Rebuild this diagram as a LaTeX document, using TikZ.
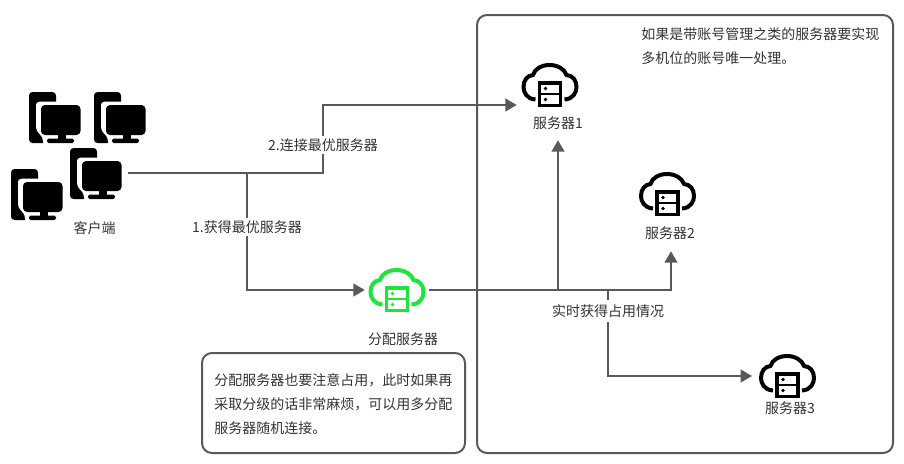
\documentclass[tikz,border=0pt]{standalone}
\usepackage{fontspec}
\setmainfont{Noto Sans CJK SC}
\usetikzlibrary{arrows.meta}
\definecolor{linegrey}{HTML}{595959}
\definecolor{txtgrey}{HTML}{333333}
\definecolor{srvgreen}{HTML}{1FE53B}
\tikzset{
  x=0.75pt,y=-0.75pt,
  conn/.style={draw=linegrey,line width=1.5pt,line join=miter},
  arr/.style={conn,-{Triangle[width=9.5pt,length=8.5pt]}},
  frame/.style={draw=linegrey,line width=1.5pt,rounded corners=7.5pt,fill=white},
  lbl/.style={font=\fontsize{10.5}{18}\selectfont,text=txtgrey,inner sep=0pt,align=left},
  lblbg/.style={lbl,fill=white,inner sep=2pt},
  hot/.style={inner sep=0pt,minimum width=#1},
  pics/pcicon/.style={code={
    \fill[black,rounded corners=2.6pt] (0,0) rectangle (27,51);
    \fill[white,rounded corners=3pt] (7,14) -- (7,9.5) -- (30,9.5) -- (56,9.5) -- (56,54) -- (14,54) -- (14,45) -- (7,39) -- cycle;
    \fill[black,rounded corners=3pt] (12,13) rectangle (51.5,43);
    \fill[black] (28.5,42) rectangle (36.5,47.5);
    \fill[black,rounded corners=1.2pt] (18,46.5) rectangle (45,51);
  }},
  pics/cloudicon/.style={code={
    \draw[#1,line width=3pt] (14,36.5) .. controls (5,36) and (2,29) .. (2,24)
      .. controls (2,17) and (6,12.5) .. (11.5,12)
      .. controls (13,6) and (20,2) .. (28,2)
      .. controls (36,2) and (43,6) .. (45,12)
      .. controls (51,12.5) and (55,17) .. (55,24)
      .. controls (55,29) and (52,36) .. (43,36.5);
    \draw[#1,line width=2.8pt] (18,20) rectangle (39,42.5);
    \draw[#1,line width=2.2pt] (18,31) -- (39,31);
    \fill[#1] (24,25.5) circle (1.9);
    \fill[#1] (24,36.5) circle (1.9);
  }},
}
\begin{document}
\begin{tikzpicture}
\useasboundingbox (0,0) rectangle (904,464);
% containers
\node[frame,minimum width=312pt,minimum height=328.5pt,anchor=north west] (area) at (476,14) {};
\node[frame,minimum width=197.25pt,minimum height=75pt,anchor=north west] (note) at (201,352) {};
% icons
\pic at (29,92) {pcicon};
\pic at (94,92) {pcicon};
\pic at (70,148) {pcicon};
\pic at (11,169) {pcicon};
\pic at (368.5,268) {cloudicon=srvgreen};
\pic at (521.5,63) {cloudicon=black};
\pic at (639,172) {cloudicon=black};
\pic at (759,354) {cloudicon=black};
% connector anchors
\node[hot=43.5pt,minimum height=30pt] (client) at (99,173) {};
\node[hot=48pt,minimum height=30pt] (dist) at (397,290) {};
\node[hot=61.5pt,minimum height=52.5pt] (s1) at (558,105) {};
\node[hot=40pt,minimum height=52.5pt] (s2) at (671,216) {};
\node[hot=40pt,minimum height=30pt,anchor=west] (s3) at (752,376) {};
% junctions
\coordinate (j1) at (247,173);
\coordinate (j2) at (558,290);
\coordinate (j3) at (608,290);
\coordinate (k1) at (323,173);
\coordinate (k2) at (608,376);
% connectors
\draw[arr] (client.east) -- (k1) |- (s1.west);
\draw[arr] (j1) |- (dist.west);
\draw[arr] (dist.east) -| (s2.south);
\draw[arr] (j2) -- (s1.south);
\draw[arr] (j3) -- (k2) -- (s3.west);
% labels
\node[lblbg] (l1) at (323,145) {2.连接最优服务器};
\node[lblbg] (l2) at (247,227) {1.获得最优服务器};
\node[lblbg,inner sep=3pt] (l3) at (608,311) {实时获得占用情况};
\node[lbl] (t0) at (94.5,228) {客户端};
\node[lbl] (t1) at (403,339) {分配服务器};
\node[lbl] (t2) at (558,123) {服务器1};
\node[lbl] (t3) at (670,233) {服务器2};
\node[lbl] (t4) at (790,408) {服务器3};
\node[lbl,anchor=north west] (n1) at (641,27.5) {如果是带账号管理之类的服务器要实现\\多机位的账号唯一处理。};
\node[lbl,anchor=north west] (n2) at (214,373) {分配服务器也要注意占用，此时如果再\\采取分级的话非常麻烦，可以用多分配\\服务器随机连接。};
\end{tikzpicture}
\end{document}
